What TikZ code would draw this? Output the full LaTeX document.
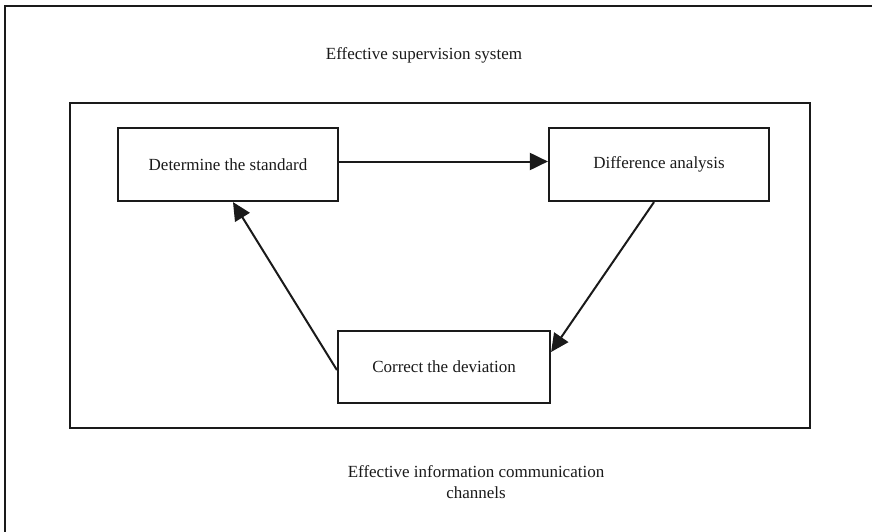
\documentclass[tikz,border=0pt]{standalone}
\usepackage{fontspec}
\setmainfont{Liberation Serif}
\usetikzlibrary{arrows.meta}
\definecolor{ink}{HTML}{1A1A1A}
\begin{document}
\begin{tikzpicture}[x=1pt,y=-1pt,
  stepbox/.style={draw=ink, line width=2.2pt, minimum width=220pt, minimum height=73pt, inner sep=0pt, text=ink, font=\fontsize{17}{20}\selectfont},
  flow/.style={draw=ink, line width=2pt, -{Triangle[length=18pt,width=17pt]}},
  label/.style={font=\fontsize{17}{21}\selectfont, text=ink, align=center, inner sep=0pt}]
\useasboundingbox (0,0) rectangle (872,532);
\fill[white] (0,0) rectangle (872,532);
% outer frame (extends beyond the picture on the right and bottom)
\draw[ink, line width=2.6pt] (872,6) -- (5,6) -- (5,532);
% inner frame
\draw[ink, line width=2.2pt] (70,103) rectangle (810,428);
\node[label] (title) at (424,55) {Effective supervision system};
\node[label] (channels) at (476,482) {Effective information communication\\channels};
\node[stepbox] (std) at (228,164.5) {Determine the standard};
\node[stepbox] (diff) at (659,164.5) {Difference analysis};
\node[stepbox, minimum width=212pt, minimum height=72pt] (corr) at (444,367) {Correct the deviation};
\draw[flow] ([yshift=3pt]std.east) -- ([yshift=3pt]diff.west);
\draw[flow] ([xshift=-5pt]diff.south) -- ([yshift=15pt]corr.east);
\draw[flow] ([yshift=-3pt]corr.west) -- ([xshift=5pt]std.south);
\end{tikzpicture}
\end{document}
